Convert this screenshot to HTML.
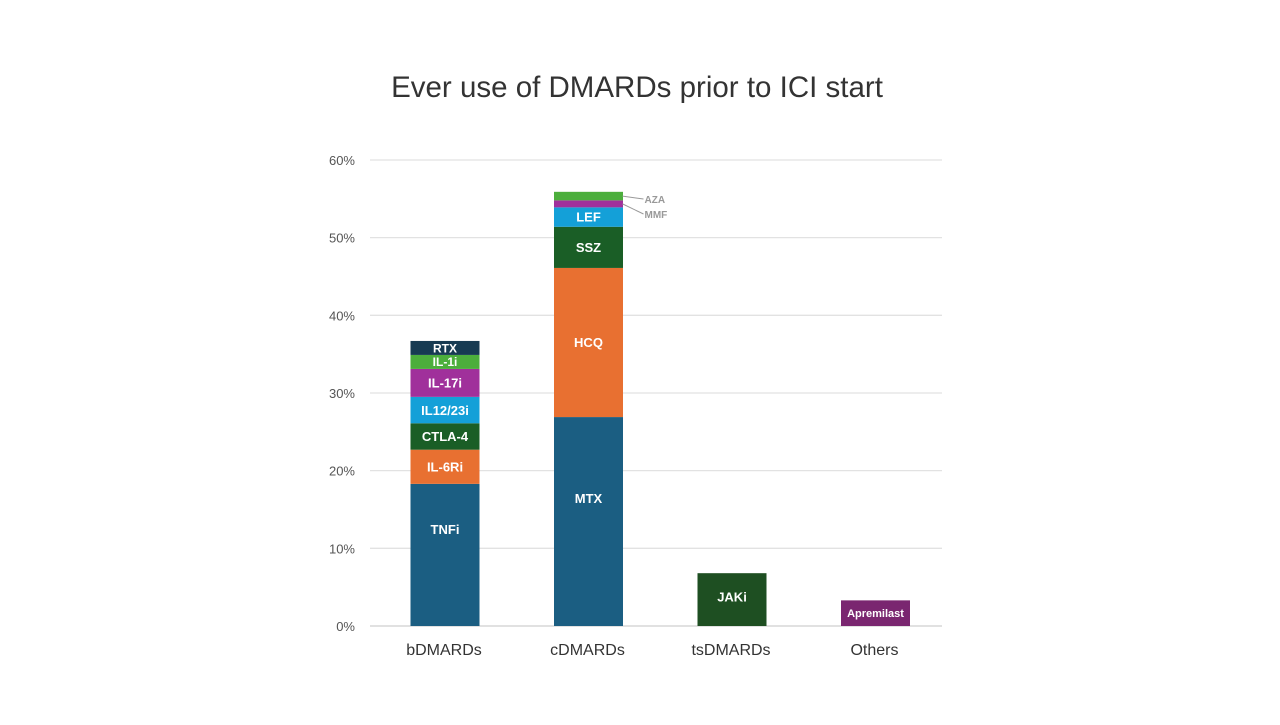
<!DOCTYPE html>
<html><head><meta charset="utf-8"><style>
body{margin:0;background:#fff;width:1280px;height:720px;overflow:hidden;font-family:"Liberation Sans",sans-serif}
</style></head><body>
<svg width="1280" height="720">
<text x="637" y="97" text-anchor="middle" font-size="29.5" fill="#333">Ever use of DMARDs prior to ICI start</text>
<g id="grid"></g><g id="bars"></g>
</svg>
<script>
const ticks=[0,10,20,30,40,50,60];
const categories=["bDMARDs","cDMARDs","tsDMARDs","Others"];
const bNames=["TNFi","IL-6Ri","CTLA-4","IL12/23i","IL-17i","IL-1i","RTX"];
const bValues=[18.3,4.4,3.4,3.4,3.6,1.8,1.8];
const cNames=["MTX","HCQ","SSZ","LEF","MMF","AZA"];
const cValues=[26.9,19.2,5.3,2.5,0.9,1.1];
const tsNames=["JAKi"];const tsValues=[6.8];
const oNames=["Apremilast"];const oValues=[3.3];
const colors={TNFi:"#1b5e82","IL-6Ri":"#e87031","CTLA-4":"#1a5e26","IL12/23i":"#14a0d8","IL-17i":"#a0309b","IL-1i":"#4cae3c",RTX:"#173a52",
MTX:"#1b5e82",HCQ:"#e87031",SSZ:"#1a5e26",LEF:"#14a0d8",MMF:"#a0309b",AZA:"#4cae3c",JAKi:"#1e4f22",Apremilast:"#7a2670"};
const NS="http://www.w3.org/2000/svg";
const y=v=>626-v*7.767;
const xc=i=>445+i*143.5;
const g=document.getElementById('grid'),b=document.getElementById('bars');
function mk(tag,at,par,txt){const e=document.createElementNS(NS,tag);for(const k in at)e.setAttribute(k,at[k]);if(txt!==undefined)e.textContent=txt;par.appendChild(e);return e;}
ticks.forEach(t=>{
 const l=mk('line',{x1:370,x2:942,y1:y(t),y2:y(t),stroke:t?"#e2e2e2":"#cfcfcf","stroke-width":1.3},g);
 
 
 const tx=mk('text',{x:355,y:y(t)+5,"text-anchor":"end","font-size":13,fill:"#555"},g,t+"%");
 
 
});
categories.forEach((c,i)=>{
 const tx=mk('text',{x:xc(i)-1,y:655,"text-anchor":"middle","font-size":16,fill:"#333"},g,c);
 
 
});
const groups=[[bNames,bValues],[cNames,cValues],[tsNames,tsValues],[oNames,oValues]];
groups.forEach(([names,vals],i)=>{
 let acc=0;
 names.forEach((n,j)=>{
  const v=vals[j];const top=y(acc+v),bot=y(acc);
  const r=mk('rect',{x:xc(i)-34.5,y:top,width:69,height:bot-top,fill:colors[n]},b);
  
  
  let t;
  if(n==="MMF"||n==="AZA"){
   const ly=n==="AZA"?203:218;
   mk('line',{x1:xc(i)+34,y1:(top+bot)/2,x2:xc(i)+55,y2:ly-4,stroke:"#999","stroke-width":1},b);
   t=mk('text',{x:xc(i)+56,y:ly,"font-size":10,"font-weight":"bold",fill:"#999"},b,n);
  }else{
   const fs=n==="Apremilast"?11:n==="RTX"||n==="IL-1i"?12:13;
   const shift=n==="TNFi"?-(bot-top)*0.18:n==="MTX"?-(bot-top)*0.11:(n==="JAKi"?-3:0);
   t=mk('text',{x:xc(i),y:(top+bot)/2+fs*0.36+shift,"text-anchor":"middle","font-size":fs,"font-weight":"bold",fill:"#fff"},b,n);
  }
  
  
  acc+=v;
 });
});
</script>
</body></html>
